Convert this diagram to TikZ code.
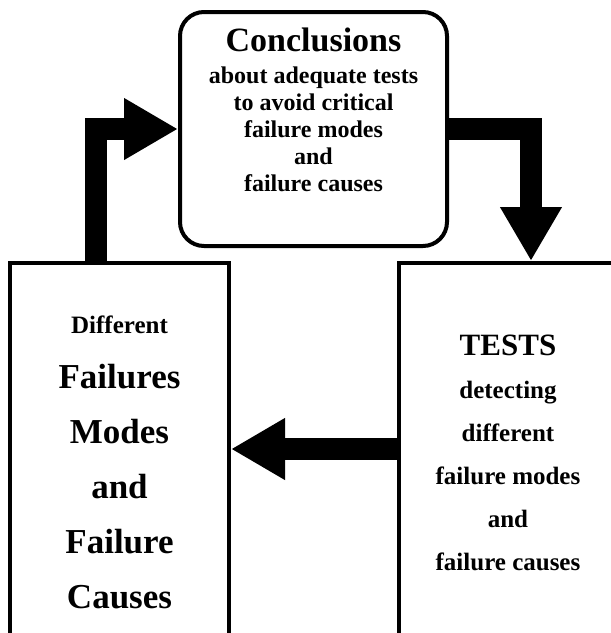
\documentclass[tikz,border=0pt]{standalone}
\usepackage{fontspec}
\setmainfont{Liberation Serif}
\usetikzlibrary{arrows.meta}

\tikzset{
  box/.style={draw, line width=4pt, align=center},
  flow/.style={line width=22pt, -{Triangle[length=54pt, width=58pt]}}
}

\begin{document}
\begin{tikzpicture}[x=1pt, y=-1pt]
      \clip (0,0) rectangle (611,633);
      % boxes
      \node[box, rounded corners=24pt, minimum width=267pt, minimum height=234pt] (concl) at (313.5,129) {};
      \node[align=center, font=\bfseries\fontsize{24}{27}\selectfont] (conclText) at (313.5,110)
        {{\fontsize{34}{34}\selectfont Conclusions}\\[5pt] about adequate tests\\ to avoid critical\\ failure modes\\ and\\ failure causes};
      \node[box, minimum width=219pt, minimum height=398pt, font=\bfseries\fontsize{35}{55}\selectfont] (modes) at (119.5,462)
        {{\fontsize{25}{25}\selectfont Different}\\ Failures\\ Modes\\ and\\ Failure\\ Causes};
      \node[box, minimum width=218pt, minimum height=380pt, font=\bfseries\fontsize{25}{43}\selectfont] (tests) at (508,453)
        {{\fontsize{31}{31}\selectfont TESTS}\\ detecting\\ different\\ failure modes\\ and\\ failure causes};
      % arrows
      \coordinate (upbar) at (96,0);
      \coordinate (downbar) at (531,0);
      \coordinate (midbar) at (0,449);
      \draw[flow] (upbar |- modes.north) |- (concl.west);
      \draw[flow] (concl.east) -| (downbar |- tests.north);
      \draw[flow] (tests.west |- midbar) -- (modes.east |- midbar);
    \end{tikzpicture}
\end{document}
